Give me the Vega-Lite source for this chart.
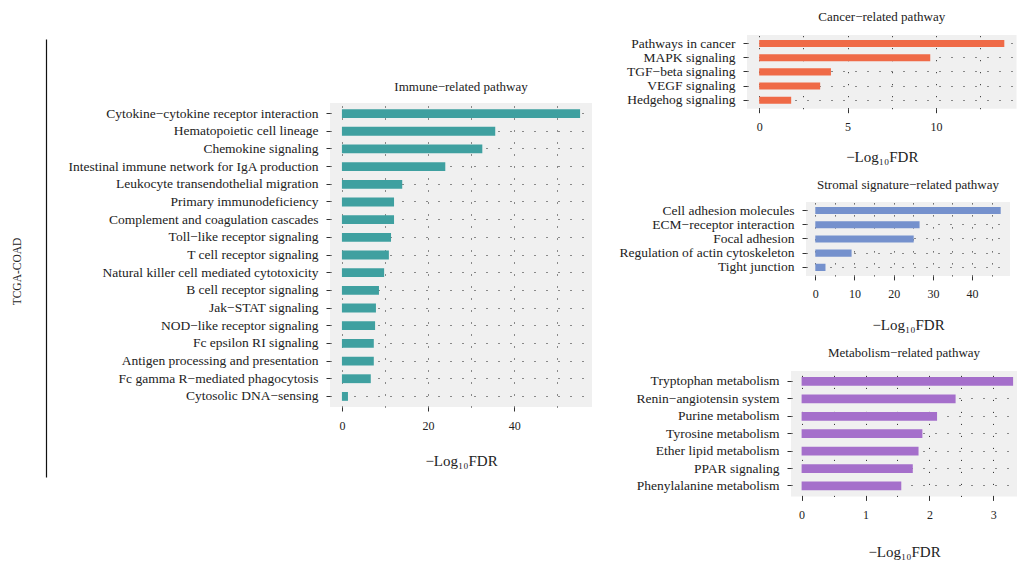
{
  "$schema": "https://vega.github.io/schema/vega-lite/v6.json",
  "padding": {"left": 11, "top": 11, "right": 0, "bottom": 0},
  "config": {
    "font": "Liberation Serif",
    "view": {"stroke": null},
    "title": {"fontSize": 13, "fontWeight": "normal", "color": "#222", "anchor": "middle", "font": "Liberation Serif"},
    "axisX": {"domain": false, "tickSize": 4, "tickColor": "#333", "labelFontSize": 12, "labelPadding": 9, "labelColor": "#222", "labelFlush": false, "labelOverlap": false, "titleFontSize": 15, "titleFontWeight": "normal", "titleColor": "#222", "grid": true, "gridDash": [1, 11], "gridColor": "#222", "gridWidth": 1},
    "axisY": {"domain": false, "tickSize": 4, "tickColor": "#333", "labelFontSize": 13.5, "labelPadding": 8, "labelColor": "#222", "labelLimit": 0, "grid": true, "gridDash": [1, 11], "gridColor": "#222", "gridWidth": 1, "maxExtent": 400}
  },
  "datasets": {
    "immune": [
      {"pathway": "Cytokine−cytokine receptor interaction", "value": 55.3},
      {"pathway": "Hematopoietic cell lineage", "value": 35.6},
      {"pathway": "Chemokine signaling", "value": 32.6},
      {"pathway": "Intestinal immune network for IgA production", "value": 24.0},
      {"pathway": "Leukocyte transendothelial migration", "value": 14.0},
      {"pathway": "Primary immunodeficiency", "value": 12.1},
      {"pathway": "Complement and coagulation cascades", "value": 12.1},
      {"pathway": "Toll−like receptor signaling", "value": 11.4},
      {"pathway": "T cell receptor signaling", "value": 10.9},
      {"pathway": "Natural killer cell mediated cytotoxicity", "value": 9.8},
      {"pathway": "B cell receptor signaling", "value": 8.6},
      {"pathway": "Jak−STAT signaling", "value": 7.9},
      {"pathway": "NOD−like receptor signaling", "value": 7.7},
      {"pathway": "Fc epsilon RI signaling", "value": 7.4},
      {"pathway": "Antigen processing and presentation", "value": 7.4},
      {"pathway": "Fc gamma R−mediated phagocytosis", "value": 6.7},
      {"pathway": "Cytosolic DNA−sensing", "value": 1.4}
    ],
    "cancer": [
      {"pathway": "Pathways in cancer", "value": 13.87},
      {"pathway": "MAPK signaling", "value": 9.68},
      {"pathway": "TGF−beta signaling", "value": 4.06},
      {"pathway": "VEGF signaling", "value": 3.45},
      {"pathway": "Hedgehog signaling", "value": 1.81}
    ],
    "stromal": [
      {"pathway": "Cell adhesion molecules", "value": 47.3},
      {"pathway": "ECM−receptor interaction", "value": 26.6},
      {"pathway": "Focal adhesion", "value": 25.1},
      {"pathway": "Regulation of actin cytoskeleton", "value": 9.26},
      {"pathway": "Tight junction", "value": 2.6}
    ],
    "metabolism": [
      {"pathway": "Tryptophan metabolism", "value": 3.31},
      {"pathway": "Renin−angiotensin system", "value": 2.41},
      {"pathway": "Purine metabolism", "value": 2.12},
      {"pathway": "Tyrosine metabolism", "value": 1.89},
      {"pathway": "Ether lipid metabolism", "value": 1.83},
      {"pathway": "PPAR signaling", "value": 1.74},
      {"pathway": "Phenylalanine metabolism", "value": 1.56}
    ],
    "label": [{"v": 0}],
    "empty": []
  },
  "hconcat": [
    {
      "spacing": 0,
      "vconcat": [
        {"width": 1, "height": 4, "data": {"name": "empty"}, "mark": {"type": "point", "opacity": 0}, "encoding": {}},
        {
          "width": 1, "height": 438,
          "data": {"name": "label"},
          "mark": {"type": "point", "opacity": 0},
          "encoding": {
            "y": {"field": "v", "type": "quantitative",
              "axis": {"title": "TCGA-COAD", "grid": false, "ticks": false, "labels": false, "domain": true, "domainColor": "#111", "domainWidth": 1.2, "titlePadding": 24, "titleFontSize": 11.5, "titleFontWeight": "normal", "titleColor": "#222", "titleY": 232, "minExtent": 0}}
          }
        }
      ]
    },
    {
      "spacing": 0,
      "vconcat": [
        {"width": 1, "height": 46, "data": {"name": "empty"}, "mark": {"type": "point", "opacity": 0}, "encoding": {}},
        {
          "width": 262, "height": 304,
          "view": {"fill": "#f0f0f0", "stroke": null},
          "title": {"text": "Immune−related pathway", "offset": 9},
          "data": {"name": "immune"},
          "mark": {"type": "bar", "color": "#3fa0a0"},
          "encoding": {
            "y": {"field": "pathway", "type": "nominal", "sort": null,
              "scale": {"paddingInner": 0.5, "paddingOuter": 0.35},
              "axis": {"title": null, "grid": true, "minExtent": 270}},
            "x": {"field": "value", "type": "quantitative",
              "scale": {"domain": [-2.77, 58.07], "nice": false, "zero": false},
              "axis": {"title": "−Log₁₀FDR", "values": [0, 10, 20, 30, 40, 50],
                "labelExpr": "datum.value % 20 === 0 ? datum.label : ''",
                "tickOpacity": {"condition": {"test": "datum.value % 20 === 0", "value": 1}, "value": 0},
                "titlePadding": 22}}
          }
        }
      ]
    },
    {
      "spacing": 14,
      "vconcat": [
        {
          "spacing": 0,
          "hconcat": [
            {"width": 1, "height": 1, "data": {"name": "empty"}, "mark": {"type": "point", "opacity": 0}, "encoding": {}},
            {
              "width": 269.5, "height": 73.7,
              "view": {"fill": "#f0f0f0", "stroke": null},
              "title": {"text": "Cancer−related pathway", "offset": 11},
              "data": {"name": "cancer"},
              "mark": {"type": "bar", "color": "#ef6a47"},
              "encoding": {
                "y": {"field": "pathway", "type": "nominal", "sort": null,
                  "scale": {"paddingInner": 0.5, "paddingOuter": 0.35},
                  "axis": {"title": null, "grid": true, "minExtent": 144}},
                "x": {"field": "value", "type": "quantitative",
                  "scale": {"domain": [-0.69, 14.56], "nice": false, "zero": false},
                  "axis": {"title": "−Log₁₀FDR", "values": [0, 2.5, 5, 7.5, 10, 12.5],
                    "labelExpr": "datum.value % 5 === 0 ? datum.label : ''",
                    "tickOpacity": {"condition": {"test": "datum.value % 5 === 0", "value": 1}, "value": 0},
                    "titlePadding": 17}}
              }
            }
          ]
        },
        {
          "spacing": 0,
          "hconcat": [
            {"width": 1, "height": 1, "data": {"name": "empty"}, "mark": {"type": "point", "opacity": 0}, "encoding": {}},
            {
              "width": 204, "height": 73.9,
              "view": {"fill": "#f0f0f0", "stroke": null},
              "title": {"text": "Stromal signature−related pathway", "offset": 10},
              "data": {"name": "stromal"},
              "mark": {"type": "bar", "color": "#7591cd"},
              "encoding": {
                "y": {"field": "pathway", "type": "nominal", "sort": null,
                  "scale": {"paddingInner": 0.5, "paddingOuter": 0.35},
                  "axis": {"title": null, "grid": true, "minExtent": 203}},
                "x": {"field": "value", "type": "quantitative",
                  "scale": {"domain": [-2.37, 49.67], "nice": false, "zero": false},
                  "axis": {"title": "−Log₁₀FDR", "values": [0, 5, 10, 15, 20, 25, 30, 35, 40, 45],
                    "labelExpr": "datum.value % 10 === 0 ? datum.label : ''",
                    "tickOpacity": {"condition": {"test": "datum.value % 10 === 0", "value": 1}, "value": 0},
                    "titlePadding": 17.5}}
              }
            }
          ]
        },
        {
          "spacing": 0,
          "hconcat": [
            {"width": 1, "height": 1, "data": {"name": "empty"}, "mark": {"type": "point", "opacity": 0}, "encoding": {}},
            {
              "width": 226, "height": 125.4,
              "view": {"fill": "#f0f0f0", "stroke": null},
              "title": {"text": "Metabolism−related pathway", "offset": 11},
              "data": {"name": "metabolism"},
              "mark": {"type": "bar", "color": "#a56fcb"},
              "encoding": {
                "y": {"field": "pathway", "type": "nominal", "sort": null,
                  "scale": {"paddingInner": 0.5, "paddingOuter": 0.35},
                  "axis": {"title": null, "grid": true, "minExtent": 188}},
                "x": {"field": "value", "type": "quantitative",
                  "scale": {"domain": [-0.166, 3.371], "nice": false, "zero": false},
                  "axis": {"title": "−Log₁₀FDR", "values": [0, 0.5, 1, 1.5, 2, 2.5, 3], "format": "~g",
                    "labelExpr": "datum.value % 1 === 0 ? datum.label : ''",
                    "tickOpacity": {"condition": {"test": "datum.value % 1 === 0", "value": 1}, "value": 0},
                    "titlePadding": 24}}
              }
            }
          ]
        }
      ]
    }
  ],
  "spacing": 10
}
